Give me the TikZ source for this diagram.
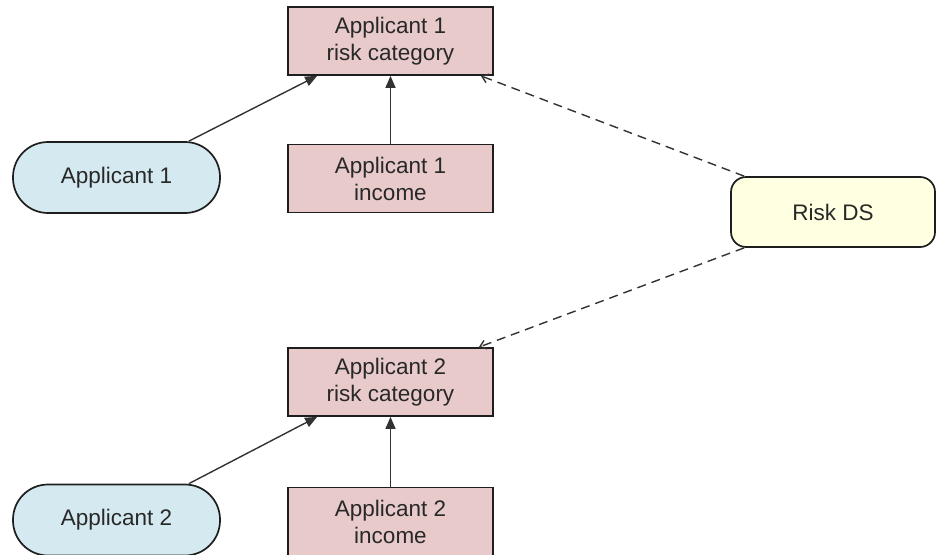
\documentclass[tikz,border=0pt]{standalone}
\usepackage{fontspec}
\setmainfont{Liberation Sans}
\usetikzlibrary{arrows.meta}
\definecolor{pinkfill}{RGB}{232,202,202}
\definecolor{bluefill}{RGB}{212,233,240}
\definecolor{creamfill}{RGB}{255,255,226}
\definecolor{edgecol}{RGB}{30,30,30}
\definecolor{linecol}{RGB}{50,50,50}
\definecolor{txtcol}{RGB}{40,40,40}
\tikzset{
  varbox/.style={draw=edgecol, line width=1.7pt, fill=pinkfill, minimum width=205pt, minimum height=68pt, inner sep=0pt, align=center, text=txtcol, font=\fontsize{22.5}{27}\selectfont},
  pill/.style={draw=edgecol, line width=1.7pt, fill=bluefill, rounded corners=35pt, minimum width=207pt, minimum height=71pt, inner sep=0pt, text=txtcol, font=\fontsize{22.5}{27}\selectfont},
  dsbox/.style={draw=edgecol, line width=1.7pt, fill=creamfill, rounded corners=15pt, minimum width=204pt, minimum height=70pt, inner sep=0pt, text=txtcol, font=\fontsize{22.5}{27}\selectfont},
  solidarrow/.style={draw=linecol, line width=1.4pt, -{Triangle[length=12pt,width=10pt]}},
  dasharrow/.style={draw=linecol, line width=1.4pt, dash pattern=on 9pt off 6pt, -{Straight Barb[length=6pt,width=9pt]}}
}
\begin{document}
\begin{tikzpicture}[x=1pt,y=-1pt]
\useasboundingbox (0,0) rectangle (941,554);
\node[varbox] (rc1) at (390.5,41) {Applicant 1\\risk category};
\node[varbox] (in1) at (390.5,178.5) {Applicant 1\\income};
\node[pill] (ap1) at (116.5,177.5) {Applicant 1};
\node[dsbox] (ds) at (833,212) {Risk DS};
\node[varbox] (rc2) at (390.5,382) {Applicant 2\\risk category};
\node[varbox] (in2) at (390.5,521.5) {Applicant 2\\income};
\node[pill] (ap2) at (116.5,520) {Applicant 2};
\draw[solidarrow] ([xshift=-32pt]ap1.north east) -- ([xshift=30pt]rc1.south west);
\draw[solidarrow] (in1.north) -- (rc1.south);
\draw[solidarrow] ([xshift=-32pt]ap2.north east) -- ([xshift=30pt]rc2.south west);
\draw[solidarrow] (in2.north) -- (rc2.south);
\draw[dasharrow] ([xshift=14pt]ds.north west) -- ([xshift=-13pt]rc1.south east);
\draw[dasharrow] ([xshift=14pt]ds.south west) -- ([xshift=-15pt]rc2.north east);
\end{tikzpicture}
\end{document}
